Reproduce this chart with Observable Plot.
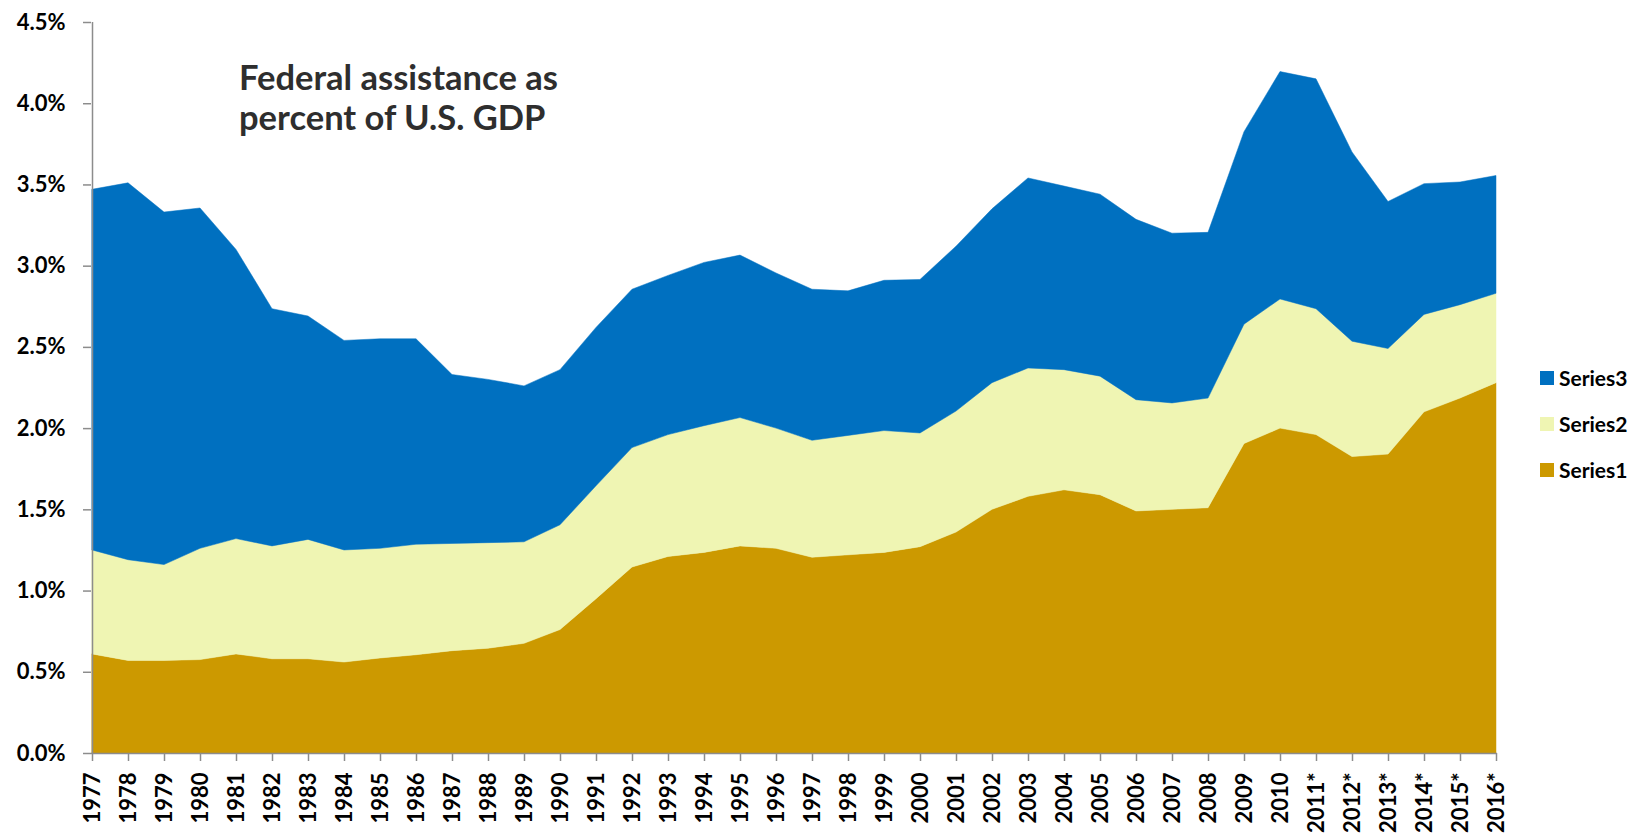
<!DOCTYPE html>
<html>
<head>
<meta charset="utf-8">
<script src="https://cdn.jsdelivr.net/npm/d3@7"></script>
<script src="https://cdn.jsdelivr.net/npm/@observablehq/plot@0.6"></script>
<style>
  html, body { margin: 0; padding: 0; background: #fff; }
  #wrap { position: relative; width: 1636px; height: 838px; overflow: hidden; }
  #title {
    position: absolute; left: 239px; top: 57px;
    font-family: Lato, sans-serif; font-weight: bold; font-size: 34.5px; line-height: 40px;
    color: #2e2e2e; white-space: nowrap;
  }
  #legend {
    position: absolute; left: 1540px; top: 367px;
    display: flex; flex-direction: column; gap: 24px;
    font-family: Lato, sans-serif; font-weight: bold; font-size: 21px; line-height: 22px; color: #000;
  }
  .item { display: flex; align-items: center; height: 22px; }
  .sw { width: 14px; height: 14px; margin-right: 5px; }
</style>
</head>
<body>
<div id="wrap">
  <div id="chart"></div>
  <div id="title"></div>
  <div id="legend"></div>
</div>
<script>
const years = ["1977","1978","1979","1980","1981","1982","1983","1984","1985","1986",
  "1987","1988","1989","1990","1991","1992","1993","1994","1995","1996",
  "1997","1998","1999","2000","2001","2002","2003","2004","2005","2006",
  "2007","2008","2009","2010","2011*","2012*","2013*","2014*","2015*","2016*"];

// percent of GDP, layer values (stacked bottom to top)
const series1 = [0.61,0.57,0.57,0.575,0.61,0.58,0.58,0.56,0.585,0.605,
  0.63,0.645,0.675,0.76,0.95,1.145,1.21,1.235,1.275,1.26,
  1.205,1.22,1.235,1.27,1.36,1.50,1.58,1.62,1.59,1.49,
  1.50,1.51,1.905,2.00,1.96,1.825,1.84,2.10,2.185,2.28];
const series2 = [0.64,0.62,0.59,0.685,0.71,0.695,0.735,0.69,0.675,0.68,
  0.66,0.65,0.625,0.645,0.695,0.735,0.75,0.78,0.79,0.74,
  0.72,0.735,0.75,0.70,0.745,0.78,0.79,0.74,0.73,0.685,
  0.655,0.675,0.735,0.795,0.775,0.71,0.65,0.60,0.575,0.55];
const series3 = [2.22,2.32,2.17,2.095,1.78,1.46,1.375,1.29,1.29,1.265,
  1.04,1.005,0.96,0.955,0.975,0.975,0.98,1.005,1.00,0.955,
  0.93,0.89,0.925,0.945,1.015,1.07,1.17,1.13,1.12,1.11,
  1.045,1.02,1.185,1.40,1.415,1.165,0.905,0.805,0.755,0.725];

const seriesNames = ["Series1","Series2","Series3"];
const seriesColors = ["#CC9900","#EFF5B3","#0070C0"];
const yTicks = [0,0.5,1,1.5,2,2.5,3,3.5,4,4.5];
const titleLines = ["Federal assistance as","percent of U.S. GDP"];

const layers = [series1, series2, series3];
const table = [];
years.forEach((yr, i) => {
  seriesNames.forEach((s, k) => table.push({year: yr, series: s, value: layers[k][i]}));
});

const chart = Plot.plot({
  width: 1636,
  height: 838,
  marginLeft: 91,
  marginRight: 139,
  marginTop: 22,
  marginBottom: 85,
  style: {fontFamily: "Lato, sans-serif", fontSize: "22px", fontWeight: "bold", background: "#fff", color: "#000"},
  x: {type: "point", domain: years, padding: 0},
  y: {domain: [0, 4.5]},
  color: {domain: seriesNames, range: seriesColors},
  marks: [
    Plot.areaY(table, {x: "year", y: "value", z: "series", fill: "series", stroke: "series", strokeWidth: 0.5}),
    Plot.ruleY([0], {stroke: "#8c8c8c", strokeWidth: 1.5}),
    Plot.ruleX([years[0]], {stroke: "#8c8c8c", strokeWidth: 1.5}),
    Plot.axisY({ticks: yTicks, tickFormat: d => d.toFixed(1) + "%", tickSize: 8, tickPadding: 18,
      stroke: "#8c8c8c", strokeWidth: 1.5, fill: "#000", label: null}),
    Plot.axisX({tickRotate: -90, tickSize: 8, tickPadding: 11, stroke: "#8c8c8c", strokeWidth: 1.5,
      fill: "#000", label: null})
  ]
});
document.getElementById("chart").appendChild(chart);

const legend = document.getElementById("legend");
[...seriesNames].reverse().forEach(s => {
  const it = document.createElement("div");
  it.className = "item";
  const sw = document.createElement("span");
  sw.className = "sw";
  sw.style.background = seriesColors[seriesNames.indexOf(s)];
  const tx = document.createElement("span");
  tx.textContent = s;
  it.appendChild(sw); it.appendChild(tx);
  legend.appendChild(it);
});
const title = document.getElementById("title");
titleLines.forEach((line, i) => {
  if (i) title.appendChild(document.createElement("br"));
  title.appendChild(document.createTextNode(line));
});
</script>
</body>
</html>
